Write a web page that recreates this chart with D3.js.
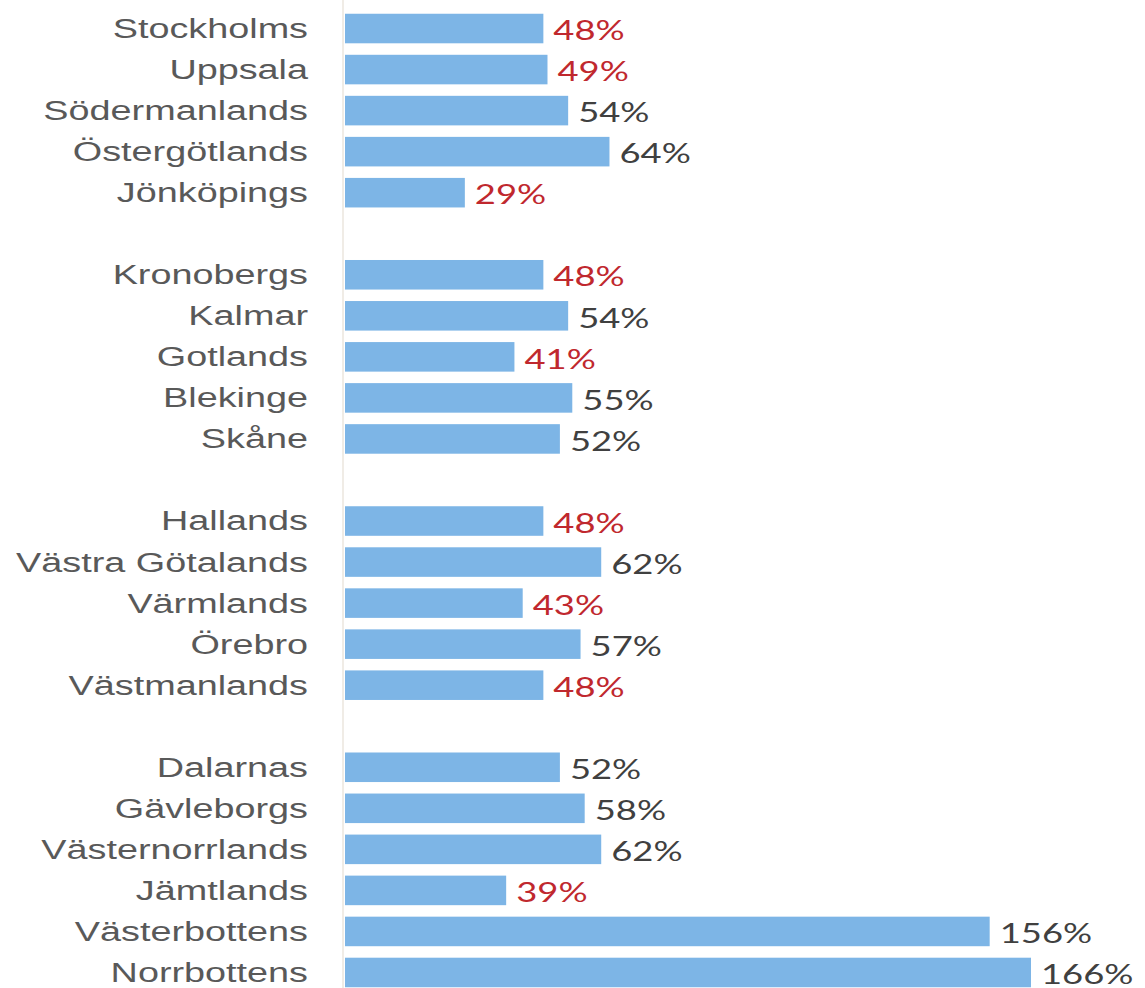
<!DOCTYPE html>
<html>
<head>
<meta charset="utf-8">
<script src="https://cdn.jsdelivr.net/npm/d3@7"></script>
<style>
  body { margin: 0; background: #fff; }
  svg { display: block; }
</style>
</head>
<body>
<svg width="1145" height="988"></svg>
<script>
const svg = d3.select("svg");
const width = +svg.attr("width");
const height = +svg.attr("height");

// Data, in display order
const regions = [
  "Stockholms", "Uppsala", "Södermanlands", "Östergötlands", "Jönköpings",
  "Kronobergs", "Kalmar", "Gotlands", "Blekinge", "Skåne",
  "Hallands", "Västra Götalands", "Värmlands", "Örebro", "Västmanlands",
  "Dalarnas", "Gävleborgs", "Västernorrlands", "Jämtlands", "Västerbottens", "Norrbottens"
];
const values = [48, 49, 54, 64, 29, 48, 54, 41, 55, 52, 48, 62, 43, 57, 48, 52, 58, 62, 39, 156, 166];
const groups = [0, 0, 0, 0, 0, 1, 1, 1, 1, 1, 2, 2, 2, 2, 2, 3, 3, 3, 3, 3, 3];
const threshold = 50; // values below this are shown in red

const data = regions.map((r, i) => ({ region: r, value: values[i], group: groups[i] }));

// Build slot list with an empty slot between groups
const slots = [];
data.forEach((d, i) => {
    if (i > 0 && d.group !== data[i - 1].group) slots.push("gap" + d.group);
    slots.push(d.region);
});

const x0 = 345;
const x = d3.scaleLinear().domain([0, 166]).range([x0, 1031]);
const y = d3.scaleBand().domain(slots).range([8, 993]).paddingInner(0.28).paddingOuter(0.14);

const sx = 1.4; // the picture is stretched horizontally

// Faint axis line
svg.append("line")
    .attr("x1", x0 - 2).attr("x2", x0 - 2)
    .attr("y1", 0).attr("y2", height)
    .attr("stroke", "#ebe6de")
    .attr("stroke-width", 1.5);

// Bars
svg.selectAll("rect.bar")
    .data(data)
    .join("rect")
    .attr("class", "bar")
    .attr("x", x(0))
    .attr("y", d => y(d.region))
    .attr("width", d => x(d.value) - x(0))
    .attr("height", y.bandwidth())
    .attr("fill", "#7db5e6");

// Category labels
svg.selectAll("text.cat")
    .data(data)
    .join("text")
    .attr("class", "cat")
    .attr("transform", d => `translate(308,${y(d.region) + y.bandwidth() / 2}) scale(${sx},1)`)
    .attr("dy", "0.35em")
    .attr("text-anchor", "end")
    .attr("font-family", "Liberation Sans, Arial, sans-serif")
    .attr("font-size", 27)
    .attr("fill", "#595959")
    .text(d => d.region);

// Value labels
svg.selectAll("text.val")
    .data(data)
    .join("text")
    .attr("class", "val")
    .attr("transform", d => `translate(${x(d.value) + 10},${y(d.region) + y.bandwidth() / 2}) scale(${sx},1)`)
    .attr("dy", "0.45em")
    .attr("font-family", "Lato, Open Sans, sans-serif")
    .attr("font-size", 26)
    .attr("fill", d => d.value < threshold ? "#c0282e" : "#404040")
    .text(d => d.value + "%");
</script>
</body>
</html>
